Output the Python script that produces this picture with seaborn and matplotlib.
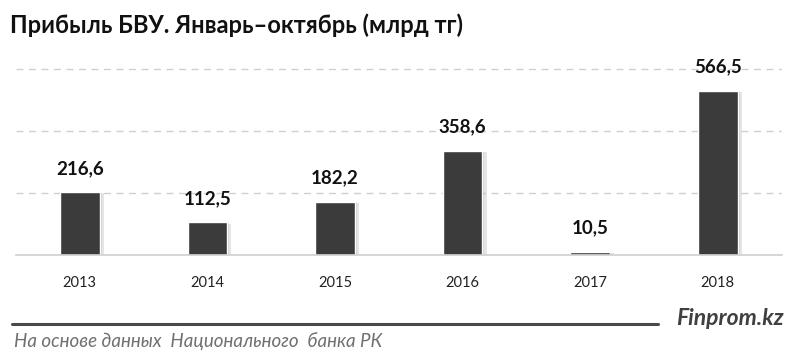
import matplotlib
matplotlib.use("Agg")
import matplotlib.pyplot as plt
import matplotlib.patheffects as pe
import pandas as pd
import seaborn as sns

years = ["2013", "2014", "2015", "2016", "2017", "2018"]
profit = [216.6, 112.5, 182.2, 358.6, 10.5, 566.5]
value_labels = ["216,6", "112,5", "182,2", "358,6", "10,5", "566,5"]

title = "Прибыль БВУ. Январь–октябрь (млрд тг)"
source = "На основе данных  Национального  банка РК"
brand = "Finprom.kz"

sns.set_style("white")
plt.rcParams["font.family"] = ["Lato", "DejaVu Sans"]

df = pd.DataFrame({"year": years, "profit": profit})

fig = plt.figure(figsize=(8, 3.6), dpi=100)
ax = fig.add_axes([0.02, 0.292, 0.957, 0.536])

sns.barplot(data=df, x="year", y="profit", color="#3b3b3b", width=0.31,
            saturation=1, ax=ax)
# soft shadow to the right of each bar
for bar in ax.patches:
    bar.set_path_effects([
        pe.SimplePatchShadow(offset=(3, -1), shadow_rgbFace="#999999", alpha=0.25),
        pe.SimplePatchShadow(offset=(1.5, -0.5), shadow_rgbFace="#999999", alpha=0.3),
        pe.Normal()])

for i, (v, lab) in enumerate(zip(profit, value_labels)):
    ax.annotate(lab, (i, v), xytext=(0, 11), textcoords="offset points",
                ha="center", va="bottom", fontsize=13.5, fontweight="bold", color="#111111")

ax.set_xlim(-0.5, 5.5)
ax.set_ylim(0, 665)
ax.set_yticks([214, 428, 642])
ax.yaxis.grid(True, linestyle=(0, (5, 4)), color="#d0d0d0", linewidth=1)
ax.set_axisbelow(True)
ax.tick_params(axis="y", left=False, labelleft=False)
ax.tick_params(axis="x", bottom=False, labelsize=10.5, labelcolor="#222222", pad=12)
ax.set_xlabel("")
ax.set_ylabel("")
for s in ["top", "left", "right"]:
    ax.spines[s].set_visible(False)
ax.spines["bottom"].set_color("#cfcfcf")
ax.spines["bottom"].set_linewidth(1.2)

fig.text(0.012, 0.93, title, fontsize=17, fontweight="bold", color="#111111",
         ha="left", va="center")

fig.add_artist(plt.Line2D([0.015, 0.822], [0.1, 0.1], color="#4a4a4a", linewidth=2.2,
                          transform=fig.transFigure))
fig.text(0.98, 0.115, brand, fontsize=16.5, fontweight="bold", style="italic",
         color="#404040", ha="right", va="center")
fig.text(0.018, 0.052, source, fontsize=13.5, style="italic", color="#707070",
         ha="left", va="center")

fig.savefig("out.png", dpi=100)
